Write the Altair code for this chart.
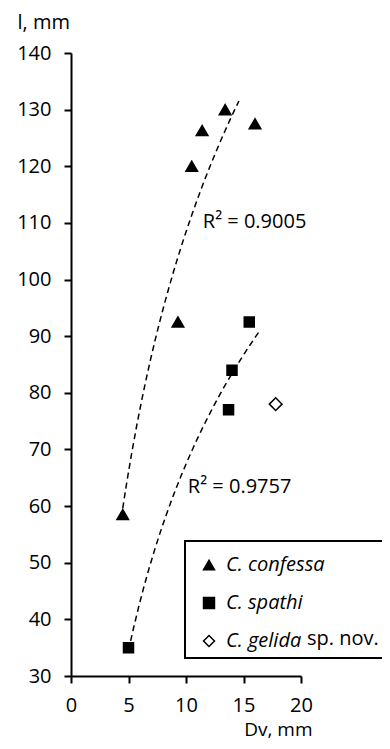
import altair as alt
import pandas as pd

species = ["C. confessa", "C. spathi", "C. gelida"]

confessa_dv = [4.5, 9.3, 10.5, 11.4, 13.4, 16.0]
confessa_l = [58.5, 92.5, 120.0, 126.3, 130.0, 127.5]
spathi_dv = [5.0, 13.7, 14.0, 15.5]
spathi_l = [35.0, 77.0, 84.0, 92.5]
gelida_dv = [17.8]
gelida_l = [78.0]

x_ticks = [0, 5, 10, 15, 20]
y_ticks = [30, 40, 50, 60, 70, 80, 90, 100, 110, 120, 130, 140]

r2_labels = ["R\u00b2 = 0.9005", "R\u00b2 = 0.9757"]
r2_dv = [11.46, 10.16]
r2_l = [110.2, 63.4]

df_conf = pd.DataFrame({"dv": confessa_dv, "l": confessa_l, "species": species[0]})
df_spa = pd.DataFrame({"dv": spathi_dv, "l": spathi_l, "species": species[1]})
df_gel = pd.DataFrame({"dv": gelida_dv, "l": gelida_l, "species": species[2]})
df_ann = pd.DataFrame({"dv": r2_dv, "l": r2_l, "txt": r2_labels})
one = pd.DataFrame({"a": [0]})

FONT = "Open Sans"
FS = 20
LFS = 20

xs = alt.Scale(domain=[0, 20], nice=False, zero=False)
ys = alt.Scale(domain=[30, 140], nice=False, zero=False)

x_enc = alt.X("dv:Q", scale=xs, axis=alt.Axis(values=x_ticks, title="Dv, mm", labelPadding=12,
                                               labelFlush=False, titleFontSize=19,
                                               titleAlign="right", titleX=241, titleY=59,
                                               titleBaseline="alphabetic"))
y_enc = alt.Y("l:Q", scale=ys, axis=alt.Axis(values=y_ticks, title="l, mm", titleAngle=0, labelPadding=13,
                                              labelFlush=False,
                                              titleAlign="left", titleX=-54, titleY=-31,
                                              titleBaseline="middle"))

box = alt.Chart(one).mark_rect(fillOpacity=0, stroke="black", strokeWidth=2).encode(
    x=alt.value(114), x2=alt.value(330), y=alt.value(488), y2=alt.value(605)
)

reg_conf = alt.Chart(df_conf).transform_regression(
    "dv", "l", method="log", extent=[4.5, 14.6]
).mark_line(color="black", strokeDash=[6, 4], strokeWidth=1.5).encode(x=x_enc, y=y_enc)

reg_spa = alt.Chart(df_spa).transform_regression(
    "dv", "l", method="log", extent=[5.0, 16.5]
).mark_line(color="black", strokeDash=[6, 4], strokeWidth=1.5).encode(x=x_enc, y=y_enc)

leg = alt.Legend(title=None, orient="none", legendX=128, legendY=502,
                 labelFont=FONT, labelFontSize=LFS, labelFontStyle="italic",
                 labelColor="black", padding=0, rowPadding=18,
                 symbolSize=120, symbolStrokeColor="black", symbolStrokeWidth=1.5,
                 labelOffset=7)

shape_enc = alt.Shape("species:N", scale=alt.Scale(domain=species, range=["triangle-up", "square", "diamond"]),
                      legend=leg)
fill_enc = alt.Fill("species:N", scale=alt.Scale(domain=species, range=["black", "black", "white"]),
                    legend=leg)
stroke_enc = alt.Stroke("species:N", scale=alt.Scale(domain=species, range=["black", "black", "black"]),
                        legend=leg)


def pts(d, size):
    return alt.Chart(d).mark_point(filled=False, opacity=1, strokeWidth=1.5, size=size).encode(
        x=x_enc, y=y_enc, shape=shape_enc, fill=fill_enc, stroke=stroke_enc
    )


p_conf = pts(df_conf, 135)
p_spa = pts(df_spa, 100)
p_gel = pts(df_gel, 160)

ann = alt.Chart(df_ann).mark_text(font=FONT, fontSize=FS, align="left", baseline="middle", color="black").encode(
    x=alt.X("dv:Q", scale=xs), y=alt.Y("l:Q", scale=ys), text="txt:N"
)

spnov = alt.Chart(one).mark_text(font=FONT, fontSize=LFS, align="left", baseline="middle", color="black").encode(
    x=alt.value(236), y=alt.value(586), text=alt.value("sp. nov.")
)

chart = alt.layer(box, reg_conf, reg_spa, p_conf, p_spa, p_gel, ann, spnov).properties(
    width=230, height=623,
    autosize=alt.AutoSizeParams(type="none"),
    padding={"left": 63, "top": 45, "right": 81, "bottom": 65},
).configure_view(strokeWidth=0).configure_axis(
    domainColor="black", domainWidth=2, tickColor="black", tickWidth=2, tickSize=7,
    labelFont=FONT, labelFontSize=FS, labelColor="black",
    titleFont=FONT, titleFontSize=FS, titleFontWeight="normal", titleColor="black", grid=False,
)

chart.save("out.html", embed_options={"renderer": "svg", "actions": False})
